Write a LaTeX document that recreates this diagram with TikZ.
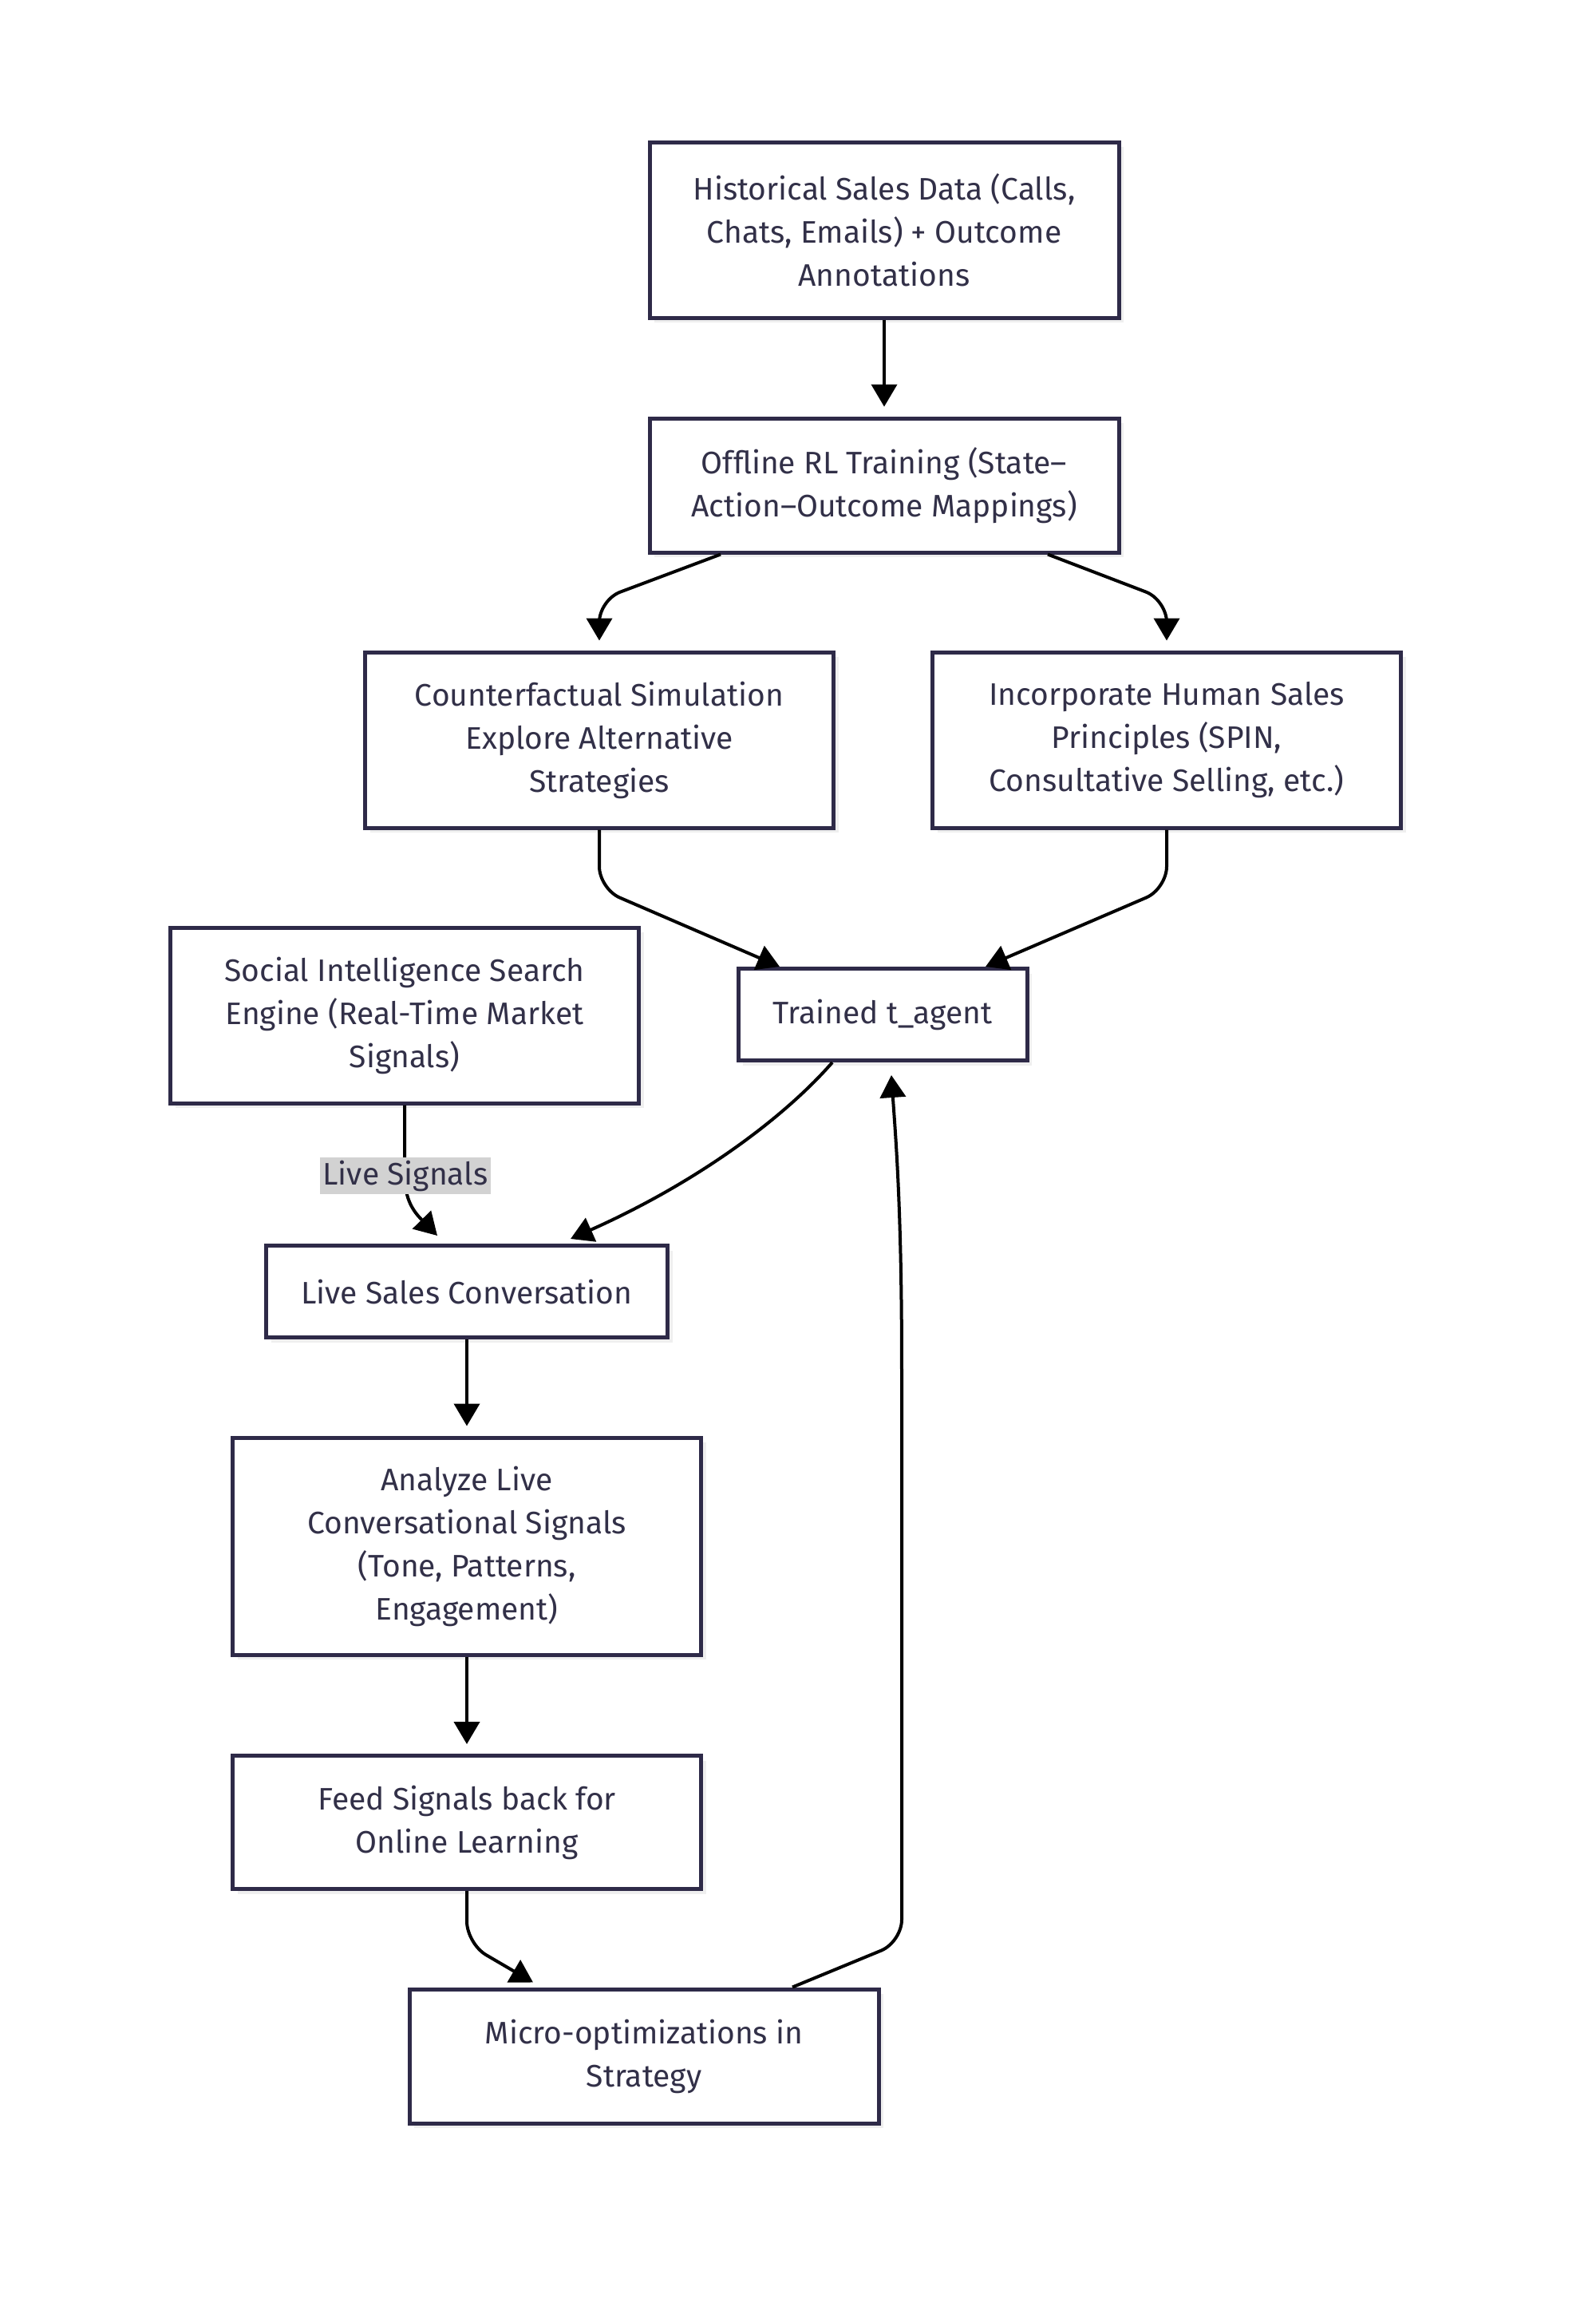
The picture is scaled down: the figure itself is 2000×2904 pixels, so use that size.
\documentclass[tikz,border=0pt]{standalone}
\usepackage{fontspec}
\setmainfont{Fira Sans}
\usetikzlibrary{arrows.meta,calc,shadows}
\definecolor{bordercol}{RGB}{46,42,72}
\definecolor{textcol}{RGB}{50,48,72}
\definecolor{lblbg}{RGB}{210,210,210}
\tikzset{
  box/.style={draw=bordercol, line width=2.5pt, fill=white, align=center, text=textcol,
    font=\fontsize{19.5}{27}\selectfont, inner sep=0pt,
    drop shadow={shadow xshift=3pt, shadow yshift=-3pt, opacity=0.12}},
  arr/.style={draw=black, line width=2pt, -{Triangle[length=14pt,width=16pt]}, rounded corners=14pt},
  lbl/.style={fill=lblbg, text=textcol, font=\fontsize{19.5}{22}\selectfont, inner sep=2pt}
}
\begin{document}
\begin{tikzpicture}[x=0.5pt,y=-0.5pt]
\useasboundingbox (0,0) rectangle (2000,2904);
\fill[white] (0,0) rectangle (2000,2904);

\node[box, minimum width=294pt, minimum height=110pt] (n1) at (1108,288) {Historical Sales Data (Calls,\\Chats, Emails) + Outcome\\Annotations};
\node[box, minimum width=294pt, minimum height=84pt] (n2) at (1108,608) {Offline RL Training (State--\\Action--Outcome Mappings)};
\node[box, minimum width=293.5pt, minimum height=110pt] (n3) at (751,927) {Counterfactual Simulation\\Explore Alternative\\Strategies};
\node[box, minimum width=293.5pt, minimum height=110pt] (n4) at (1462,927) {Incorporate Human Sales\\Principles (SPIN,\\Consultative Selling, etc.)};
\node[box, minimum width=293.5pt, minimum height=110pt] (n5) at (507,1272) {Social Intelligence Search\\Engine (Real-Time Market\\Signals)};
\node[box, minimum width=181pt, minimum height=57.5pt] (n6) at (1106,1271) {Trained t\_agent};
\node[box, minimum width=251.5pt, minimum height=57.5pt] (n7) at (585,1618) {Live Sales Conversation};
\node[box, minimum width=293.5pt, minimum height=136pt] (n8) at (585,1937) {Analyze Live\\Conversational Signals\\(Tone, Patterns,\\Engagement)};
\node[box, minimum width=293.5pt, minimum height=83.5pt] (n9) at (585,2283) {Feed Signals back for\\Online Learning};
\node[box, minimum width=294pt, minimum height=84pt] (n10) at (807,2576) {Micro-optimizations in\\Strategy};

% edges
\draw[arr] (n1.south) -- ([yshift=6pt]n2.north);
\draw[arr] ([xshift=-102.5pt]n2.south) -- ($(n3.north)+(0,-63)$) -- ([yshift=6pt]n3.north);
\draw[arr] ([xshift=102.5pt]n2.south) -- ($(n4.north)+(0,-63)$) -- ([yshift=6pt]n4.north);
\draw[arr] (n3.south) -- ($(n3.south)+(0,74)$) -- ([xshift=-64.5pt]n6.north);
\draw[arr] (n4.south) -- ($(n4.south)+(0,74)$) -- ([xshift=64.5pt]n6.north);
\draw[arr] (n5.south) -- ($(n5.south)+(0,70)$) .. controls ($(n5.south)+(2,125)$) and ($(n5.south)+(18,140)$) .. ([xshift=-18.5pt,yshift=5pt]n7.north);
\node[lbl] (ls) at (508,1473) {Live Signals};
\draw[arr] ([xshift=-31.5pt]n6.south) .. controls ($(n6.south)+(-126,72)$) and ($(n6.south)+(-236,152)$) .. ([xshift=65pt,yshift=3pt]n7.north);
\draw[arr] (n7.south) -- ([yshift=6pt]n8.north);
\draw[arr] (n8.south) -- ([yshift=6pt]n9.north);
\draw[arr] (n9.south) -- ($(n9.south)+(0,66)$) -- ([xshift=-69.5pt,yshift=3pt]n10.north);
\draw[arr] ([xshift=93pt]n10.north) -- (1130,2433) -- (1130,1700) .. controls (1129,1500) and (1122,1420) .. ([xshift=5.5pt,yshift=-8pt]n6.south);
\end{tikzpicture}
\end{document}
